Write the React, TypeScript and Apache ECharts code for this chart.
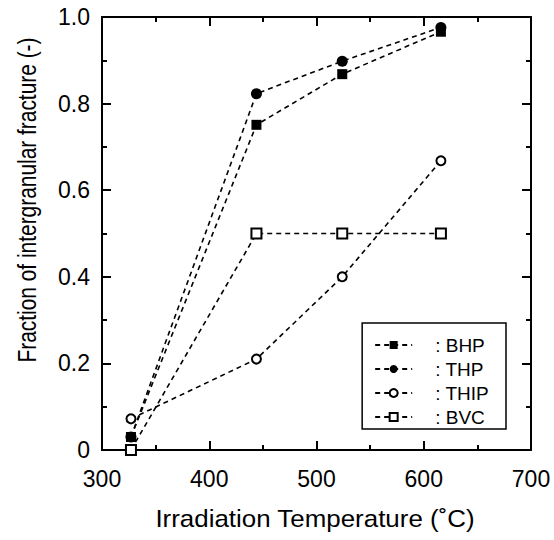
import React, { useEffect, useRef } from "react";
import * as echarts from "echarts";

const temps = [327, 444, 524, 616];
const bhp = [0.03, 0.751, 0.868, 0.966];
const thp = [0.03, 0.823, 0.898, 0.976];
const thip = [0.072, 0.21, 0.4, 0.668];
const bvc = [0, 0.5, 0.5, 0.5];
const seriesNames = ["BHP", "THP", "THIP", "BVC"];
const xTitle = "Irradiation Temperature (˚C)";
const yTitle = "Fraction of intergranular fracture (-)";

const FONT = "'Liberation Sans', Arial, Helvetica, sans-serif";
const NARROW = "'Liberation Sans Narrow', 'Liberation Sans', Arial, sans-serif";

export default function App() {
  const ref = useRef<HTMLDivElement>(null);
  useEffect(() => {
    if (!ref.current) return;
    const chart = echarts.init(ref.current, null, { renderer: "svg" });
    const lineStyle = { color: "#000", width: 1.6, type: [5, 4] as any };
    const mk = (name: string, vals: number[], symbol: string, size: number, filled: boolean, z: number) => ({
      name,
      type: "line",
      data: temps.map((t, i) => [t, vals[i]]),
      symbol,
      symbolSize: size,
      showAllSymbol: true,
      clip: false,
      z,
      lineStyle,
      itemStyle: {
        color: filled ? "#000" : "#fff",
        borderColor: "#000",
        borderWidth: filled ? 0 : 2,
        opacity: 1,
      },
    });
    const axisCommon = {
      axisLine: { show: true, onZero: false, lineStyle: { color: "#000", width: 2 } },
      axisTick: { show: true, inside: true, length: 9, lineStyle: { color: "#000", width: 2 } },
      minorTick: { show: true, splitNumber: 2, length: 5, lineStyle: { color: "#000", width: 2 } },
      splitLine: { show: false },
    };
    chart.setOption({
      animation: false,
      backgroundColor: "#fff",
      grid: { left: 102, top: 17, right: 23, bottom: 90 },
      xAxis: [
        {
          type: "value",
          min: 300,
          max: 700,
          interval: 100,
          position: "bottom",
          ...axisCommon,
          axisLabel: { color: "#000", fontSize: 23, fontFamily: FONT, margin: 17 },
        },
        {
          type: "value",
          min: 300,
          max: 700,
          interval: 100,
          position: "top",
          ...axisCommon,
          axisLabel: { show: false },
        },
      ],
      yAxis: [
        {
          type: "value",
          min: 0,
          max: 1,
          interval: 0.2,
          position: "left",
          ...axisCommon,
          axisLabel: {
            color: "#000",
            fontSize: 23,
            fontFamily: FONT,
            margin: 12,
            formatter: (v: number) => (v === 0 ? "0" : v.toFixed(1)),
          },
        },
        {
          type: "value",
          min: 0,
          max: 1,
          interval: 0.2,
          position: "right",
          ...axisCommon,
          axisLabel: { show: false },
        },
      ],
      legend: {
        orient: "vertical",
        right: 48,
        top: 323,
        data: seriesNames,
        itemWidth: 37,
        itemHeight: 10,
        itemGap: 4,
        padding: [12, 17, 2, 12],
        borderColor: "#000",
        borderWidth: 1.5,
        borderRadius: 0,
        formatter: (n: string) => ": " + n,
        textStyle: {
          color: "#000",
          fontSize: 19,
          fontFamily: NARROW,
          lineHeight: 20,
          padding: [0, 0, 0, 18],
        },
      },
      series: [
        mk(seriesNames[3], bvc, "rect", 10, false, 2),
        mk(seriesNames[2], thip, "circle", 9, false, 3),
        mk(seriesNames[1], thp, "circle", 11, true, 4),
        mk(seriesNames[0], bhp, "rect", 10, true, 5),
      ],
      graphic: [
        {
          type: "text",
          x: 315,
          y: 518,
          scaleX: 1.08,
          style: {
            text: xTitle,
            fill: "#000",
            font: `24px ${FONT}`,
            textAlign: "center",
            textVerticalAlign: "middle",
          },
        },
        {
          type: "text",
          x: 27,
          y: 200,
          rotation: Math.PI / 2,
          scaleX: 0.82,
          style: {
            text: yTitle,
            fill: "#000",
            font: `25.5px ${FONT}`,
            textAlign: "center",
            textVerticalAlign: "middle",
          },
        },
      ],
    });
    return () => chart.dispose();
  }, []);
  return (
    <div
      ref={ref}
      style={{ position: "fixed", left: 0, top: 0, width: 554, height: 540 }}
    />
  );
}
